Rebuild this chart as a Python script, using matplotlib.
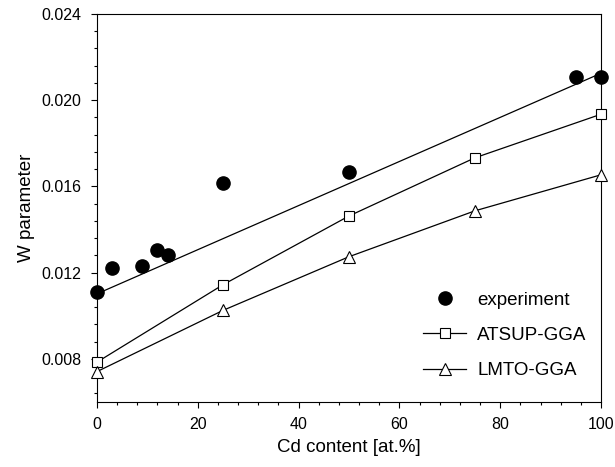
import matplotlib
matplotlib.use("Agg")
import matplotlib.pyplot as plt
from matplotlib.ticker import MultipleLocator, FixedFormatter, FixedLocator
from matplotlib.lines import Line2D

plt.rcParams['font.family'] = ['Liberation Sans', 'DejaVu Sans']

# Data
exp_x = [0, 3, 9, 12, 14, 25, 50, 95, 100]
exp_y = [0.01112, 0.01223, 0.01233, 0.01307, 0.01282, 0.01614, 0.01665, 0.02110, 0.02110]
fit_x = [0, 100]
fit_y = [0.01102, 0.02125]
atsup_x = [0, 25, 50, 75, 100]
atsup_y = [0.00785, 0.01144, 0.01463, 0.01733, 0.01935]
lmto_x = [0, 25, 50, 75, 100]
lmto_y = [0.00741, 0.01025, 0.01274, 0.01487, 0.01654]

x_ticks = [0, 20, 40, 60, 80, 100]
y_ticks = [0.008, 0.012, 0.016, 0.020, 0.024]
y_labels = ['0.008', '0.012', '0.016', '0.020', '0.024']

fig = plt.figure(figsize=(6.15, 4.67), dpi=100)
ax = fig.add_axes([97/615, 65/467, 504/615, 388/467])

lw = 0.9
ax.plot(fit_x, fit_y, color='black', lw=lw, zorder=2)
ax.plot(exp_x, exp_y, linestyle='none', marker='o', markersize=9.5,
        color='black', zorder=4, clip_on=False)
ax.plot(atsup_x, atsup_y, color='black', lw=lw, marker='s', markersize=7.5,
        markerfacecolor='white', markeredgecolor='black', markeredgewidth=0.8,
        zorder=3, clip_on=False)
ax.plot(lmto_x, lmto_y, color='black', lw=lw, marker='^', markersize=9,
        markerfacecolor='white', markeredgecolor='black', markeredgewidth=0.8,
        zorder=3, clip_on=False)

ax.set_xlim(0, 100)
ax.set_ylim(0.006, 0.024)
ax.xaxis.set_major_locator(FixedLocator(x_ticks))
ax.xaxis.set_minor_locator(MultipleLocator(4))
ax.yaxis.set_major_locator(FixedLocator(y_ticks))
ax.yaxis.set_major_formatter(FixedFormatter(y_labels))
ax.yaxis.set_minor_locator(MultipleLocator(0.0008))

ax.tick_params(which='major', direction='out', length=4, width=0.8, labelsize=11.5, pad=7)
ax.tick_params(which='minor', direction='out', length=2.5, width=0.8)
for s in ax.spines.values():
    s.set_linewidth(0.8)

ax.set_xlabel('Cd content [at.%]', fontsize=13.5, labelpad=5)
ax.set_ylabel('W parameter', fontsize=13.5, labelpad=5)

handles = [
    Line2D([], [], linestyle='none', marker='o', markersize=9.5, color='black'),
    Line2D([], [], color='black', lw=lw, marker='s', markersize=7.5,
           markerfacecolor='white', markeredgecolor='black', markeredgewidth=0.8),
    Line2D([], [], color='black', lw=lw, marker='^', markersize=9,
           markerfacecolor='white', markeredgecolor='black', markeredgewidth=0.8),
]
ax.legend(handles, ['experiment', 'ATSUP-GGA', 'LMTO-GGA'], loc='upper left',
          bbox_to_anchor=(0.647, 0.285), frameon=False, fontsize=13.5,
          handlelength=2.3, handletextpad=0.6, labelspacing=0.97, borderpad=0,
          borderaxespad=0)

fig.savefig('out.png', dpi=100)
